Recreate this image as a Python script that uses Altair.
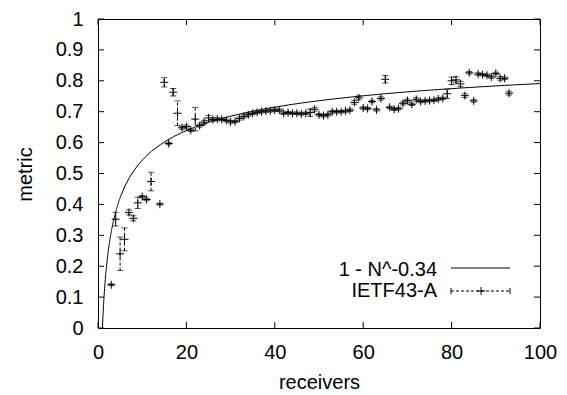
import altair as alt
import numpy as np
import pandas as pd

# ---- data ----
receivers = [3, 4, 5, 6, 7, 8, 9, 10, 11, 12, 14, 15, 16, 17, 18, 19, 20, 21, 22, 23,
             24, 25, 26, 27, 28, 29, 30, 31, 32, 33, 34, 35, 36, 37, 38, 39, 40, 41, 42, 43,
             44, 45, 46, 47, 48, 49, 50, 51, 52, 53, 54, 55, 56, 57, 58, 59, 60, 61, 62, 63,
             64, 65, 66, 67, 68, 69, 70, 71, 72, 73, 74, 75, 76, 77, 78, 79, 80, 81, 82, 83,
             84, 85, 86, 87, 88, 89, 90, 91, 92, 93]
metric = [0.140, 0.352, 0.240, 0.287, 0.374, 0.355, 0.405, 0.425, 0.416, 0.474, 0.401, 0.795, 0.597, 0.763, 0.695, 0.648, 0.652, 0.640, 0.676, 0.655,
          0.666, 0.680, 0.675, 0.676, 0.675, 0.672, 0.667, 0.668, 0.678, 0.685, 0.690, 0.695, 0.698, 0.700, 0.702, 0.703, 0.705, 0.705, 0.695, 0.697,
          0.695, 0.695, 0.693, 0.695, 0.697, 0.708, 0.690, 0.687, 0.690, 0.700, 0.700, 0.700, 0.702, 0.705, 0.730, 0.745, 0.712, 0.710, 0.733, 0.706,
          0.743, 0.805, 0.714, 0.708, 0.710, 0.727, 0.736, 0.724, 0.740, 0.733, 0.735, 0.736, 0.737, 0.741, 0.743, 0.758, 0.800, 0.803, 0.790, 0.752,
          0.826, 0.735, 0.822, 0.820, 0.818, 0.812, 0.824, 0.808, 0.808, 0.760]
error = [0.003, 0.022, 0.054, 0.037, 0.008, 0.008, 0.018, 0.004, 0.004, 0.030, 0.003, 0.015, 0.004, 0.012, 0.040, 0.005, 0.005, 0.004, 0.038, 0.005,
         0.006, 0.008, 0.005, 0.005, 0.004, 0.004, 0.004, 0.004, 0.005, 0.005, 0.005, 0.004, 0.004, 0.004, 0.004, 0.004, 0.004, 0.004, 0.004, 0.004,
         0.004, 0.004, 0.004, 0.004, 0.012, 0.006, 0.004, 0.004, 0.004, 0.004, 0.004, 0.004, 0.004, 0.004, 0.006, 0.006, 0.004, 0.004, 0.004, 0.004,
         0.005, 0.012, 0.004, 0.004, 0.004, 0.005, 0.005, 0.004, 0.005, 0.004, 0.004, 0.004, 0.004, 0.004, 0.004, 0.015, 0.012, 0.010, 0.008, 0.006,
         0.004, 0.004, 0.004, 0.004, 0.004, 0.004, 0.004, 0.006, 0.004, 0.006]

x_ticks = [0, 20, 40, 60, 80, 100]
y_ticks = [0, 0.1, 0.2, 0.3, 0.4, 0.5, 0.6, 0.7, 0.8, 0.9, 1]
fit_label = "1 - N^-0.34"
data_label = "IETF43-A"
fit_exponent = 0.34

FONT = "Liberation Sans"
FS = 20
W, H = 442, 309

pts = pd.DataFrame({"x": receivers, "y": metric, "e": error})
pts["lo"] = pts["y"] - pts["e"]
pts["hi"] = pts["y"] + pts["e"]

N = np.concatenate([np.linspace(1, 5, 81), np.linspace(5.1, 100, 96)])
fit = pd.DataFrame({"x": N, "y": 1 - N ** (-fit_exponent)})

xs = alt.Scale(domain=[0, 100], nice=False)
ys = alt.Scale(domain=[0, 1], nice=False)

x_axis = alt.Axis(values=x_ticks, title="receivers", grid=False, domain=False, ticks=False,
                  labelFont=FONT, labelFontSize=FS, labelColor="black", labelPadding=14,
                  labelFlush=False, labelOverlap=False, format="d",
                  titleFont=FONT, titleFontSize=FS, titleFontWeight="normal", titleColor="black",
                  titleY=54, titleBaseline="middle")
y_axis = alt.Axis(values=y_ticks, title="metric", grid=False, domain=False, ticks=False,
                  labelFont=FONT, labelFontSize=FS, labelColor="black", labelPadding=15,
                  labelFlush=False, labelOverlap=False, format=".1~f",
                  titleFont=FONT, titleFontSize=FS, titleFontWeight="normal", titleColor="black",
                  titleX=-73, titleY=155, titleBaseline="middle", titleAngle=-90)


def X(f):
    return alt.X(f, scale=xs, axis=x_axis, title="receivers")


def Y(f):
    return alt.Y(f, scale=ys, axis=y_axis, title="metric")


curve = alt.Chart(fit).mark_line(color="black", strokeWidth=1, clip=True).encode(
    x=X("x:Q"), y=Y("y:Q"))

bars = alt.Chart(pts).mark_rule(color="black", strokeWidth=1, strokeDash=[3, 2]).encode(
    x=X("x:Q"), y=Y("lo:Q"), y2="hi:Q")
cap_lo = alt.Chart(pts).mark_tick(color="black", orient="horizontal", size=6, thickness=1).encode(
    x=X("x:Q"), y=Y("lo:Q"))
cap_hi = alt.Chart(pts).mark_tick(color="black", orient="horizontal", size=6, thickness=1).encode(
    x=X("x:Q"), y=Y("hi:Q"))
PLUS = "M -1 0 L 1 0 M 0 -1 L 0 1"
marks = alt.Chart(pts).mark_point(shape=PLUS, size=64, filled=False, color="black", strokeWidth=1, opacity=1).encode(
    x=X("x:Q"), y=Y("y:Q"))

# inward ticks on all four sides
xt = pd.DataFrame({"t": x_ticks})
yt = pd.DataFrame({"t": y_ticks})
tb = alt.Chart(xt).mark_rule(color="black", strokeWidth=1).encode(x=X("t:Q"), y=alt.value(H), y2=alt.value(H - 6))
tt = alt.Chart(xt).mark_rule(color="black", strokeWidth=1).encode(x=X("t:Q"), y=alt.value(0), y2=alt.value(6))
tl = alt.Chart(yt).mark_rule(color="black", strokeWidth=1).encode(y=Y("t:Q"), x=alt.value(0), x2=alt.value(6))
tr = alt.Chart(yt).mark_rule(color="black", strokeWidth=1).encode(y=Y("t:Q"), x=alt.value(W), x2=alt.value(W - 6))

# legend (inside, bottom right)
one = pd.DataFrame({"a": [0]})
lg_t1 = alt.Chart(one).mark_text(text=fit_label, font=FONT, fontSize=FS, align="right", baseline="middle", color="black").encode(
    x=alt.value(339), y=alt.value(251))
lg_t2 = alt.Chart(one).mark_text(text=data_label, font=FONT, fontSize=FS, align="right", baseline="middle", color="black").encode(
    x=alt.value(339), y=alt.value(272))
lg_l1 = alt.Chart(one).mark_rule(color="black", strokeWidth=1).encode(x=alt.value(353), x2=alt.value(412), y=alt.value(249))
lg_l2 = alt.Chart(one).mark_rule(color="black", strokeWidth=1, strokeDash=[3, 2]).encode(x=alt.value(353), x2=alt.value(412), y=alt.value(272))
lg_c1 = alt.Chart(one).mark_rule(color="black", strokeWidth=1).encode(x=alt.value(353), y=alt.value(269), y2=alt.value(275))
lg_c2 = alt.Chart(one).mark_rule(color="black", strokeWidth=1).encode(x=alt.value(412), y=alt.value(269), y2=alt.value(275))
lg_p = alt.Chart(one).mark_point(shape=PLUS, size=64, filled=False, color="black", strokeWidth=1, opacity=1).encode(
    x=alt.value(383), y=alt.value(272))

chart = alt.layer(curve, bars, cap_lo, cap_hi, marks, tb, tt, tl, tr,
                  lg_t1, lg_t2, lg_l1, lg_l2, lg_c1, lg_c2, lg_p).properties(
    width=W, height=H,
    autosize=alt.AutoSizeParams(type="none"),
    padding={"left": 98, "top": 19, "right": 27, "bottom": 67},
    background="white",
).configure_view(stroke="black", strokeWidth=1)

chart.save("out.html", embed_options={"renderer": "svg", "actions": False})
